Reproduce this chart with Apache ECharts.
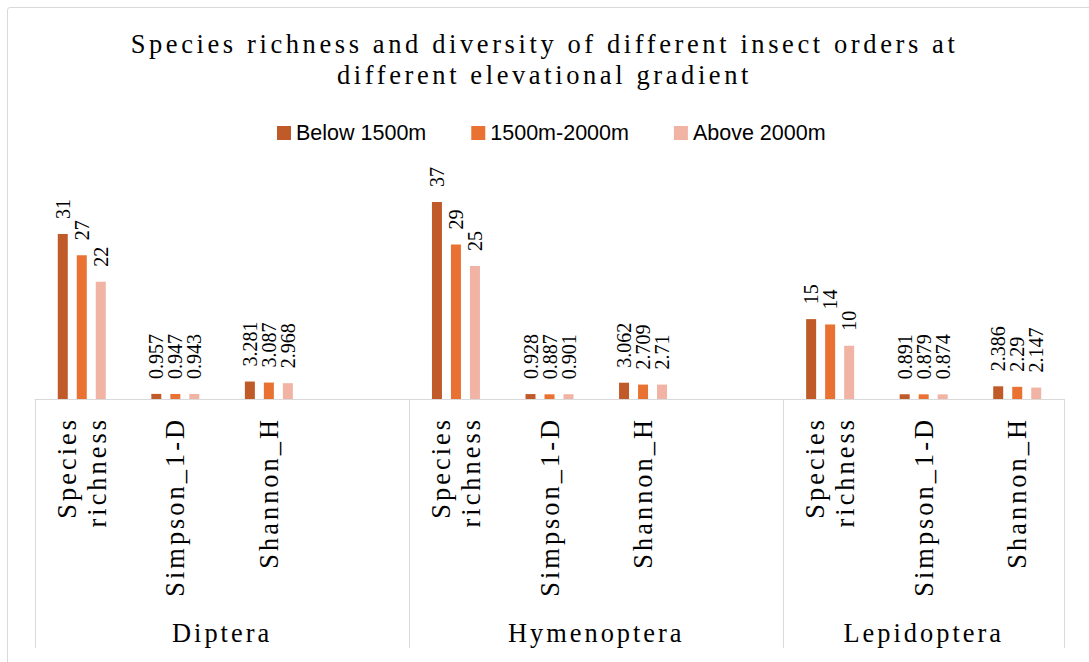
<!DOCTYPE html>
<html><head><meta charset="utf-8">
<script src="https://cdn.jsdelivr.net/npm/echarts@6/dist/echarts.min.js"></script>
<style>
html,body{margin:0;padding:0;background:#fff;}
#wrap{position:relative;width:1089px;height:662px;overflow:hidden;}
#chart{position:absolute;left:0;top:0;width:1089px;height:662px;}
#frame{position:absolute;left:7px;top:7px;width:1200px;height:800px;border:1px solid #d9d9d9;border-radius:3px;pointer-events:none;}
#chart svg text[style*="26.5px"]{letter-spacing:3.6px;}
#chart svg text[style*="26.4px"]{letter-spacing:3px;}
</style></head>
<body><div id="wrap"><div id="chart"></div><div id="frame"></div></div>
<script>
const titleText = 'Species richness and diversity of different insect orders at\ndifferent elevational gradient';
const groups = ['Diptera', 'Hymenoptera', 'Lepidoptera'];
const metrics = ['Species richness', 'Simpson_1-D', 'Shannon_H'];
const seriesNames = ['Below 1500m', '1500m-2000m', 'Above 2000m'];
const below1500 = [31, 0.957, 3.281, 37, 0.928, 3.062, 15, 0.891, 2.386];
const from1500to2000 = [27, 0.947, 3.087, 29, 0.887, 2.709, 14, 0.879, 2.29];
const above2000 = [22, 0.943, 2.968, 25, 0.901, 2.71, 10, 0.874, 2.147];
const colors = ['#C05A28', '#E97132', '#F1B3A3'];

const values = [below1500, from1500to2000, above2000];
const slots = [];
const groupStart = [];
groups.forEach((g, gi) => {
  groupStart.push(slots.length);
  metrics.forEach((m, mi) => slots.push({label: m, idx: gi * metrics.length + mi}));
  if (gi < groups.length - 1) slots.push({label: '', idx: -1});
});
const groupEnd = groupStart.slice(1).concat([slots.length]);
const centers = groupStart.map((s, i) => (s + groupEnd[i]) / 2);
const pad = arr => slots.map(s => s.idx < 0 ? null : arr[s.idx]);
const serif = 'Liberation Serif';

const chart = echarts.init(document.getElementById('chart'), null, {renderer: 'svg'});
chart.setOption({
  animation: false,
  title: {
    text: titleText, left: 'center', top: 23,
    textStyle: {fontFamily: serif, fontSize: 26.5, fontWeight: 'normal', color: '#000', lineHeight: 31}
  },
  legend: {
    left: 272, top: 117, itemWidth: 14, itemHeight: 14, itemGap: 45, icon: 'rect',
    textStyle: {fontFamily: 'Liberation Sans', fontSize: 21.5, color: '#000'}
  },
  grid: {left: 35, right: 25, top: 186, bottom: 263},
  xAxis: [{
    type: 'category', data: slots.map(s => s.label), position: 'bottom',
    axisLine: {lineStyle: {color: '#d9d9d9', width: 1}},
    axisTick: {show: false},
    axisLabel: {interval: 0, rotate: 90, margin: 18, fontFamily: serif, fontSize: 26.4, lineHeight: 30, color: '#000',
      formatter: v => v.replace(' ', '\n')}
  }, {
    type: 'value', min: 0, max: slots.length, position: 'bottom', offset: 0,
    axisLine: {show: false}, splitLine: {show: false},
    axisTick: {show: true, customValues: [0].concat(groupEnd), length: 249, lineStyle: {color: '#d9d9d9', width: 1}},
    axisLabel: {customValues: centers, margin: 221, fontFamily: serif, fontSize: 26.4, color: '#000',
      formatter: v => groups[centers.indexOf(v)]}
  }],
  yAxis: {type: 'value', min: 0, max: 40, show: false},
  series: seriesNames.map((name, i) => ({
    type: 'bar', name: name, data: pad(values[i]), xAxisIndex: 0,
    barWidth: 10, barGap: '90%',
    itemStyle: {color: colors[i]},
    label: {show: true, position: 'top', rotate: 90, align: 'left', verticalAlign: 'middle', distance: 15,
      fontFamily: serif, fontSize: 20, color: '#000'}
  }))
});
</script>
</body></html>
